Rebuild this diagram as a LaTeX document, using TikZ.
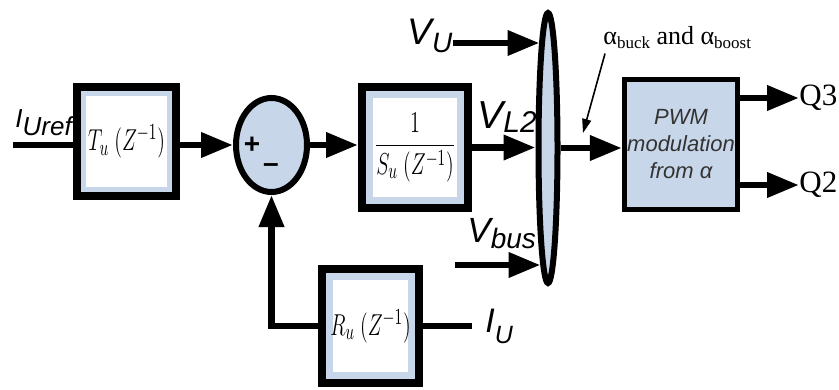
\documentclass[tikz,border=0pt]{standalone}
\usepackage{fontspec}
\setmainfont{Liberation Serif}
\setsansfont{Liberation Sans}
\usepackage{graphicx}
\usetikzlibrary{positioning,arrows.meta,shapes.geometric}
\definecolor{boxblue}{RGB}{200,214,233}
% signal name with lowered index: main, index, sizes, drop
\newcommand{\siglbl}[5]{{\fontsize{#3}{#3}\selectfont #1}\raisebox{-#5}{\fontsize{#4}{#4}\selectfont #2}}
% narrow transfer function text
\newcommand{\zf}[1]{\scalebox{0.7}[1.05]{\fontsize{15}{17}\selectfont$#1$}}

\begin{document}
\begin{tikzpicture}[
  x=0.5pt, y=-0.5pt,
  blk/.style={draw, line width=4pt, fill=boxblue, inner sep=0pt,
    path picture={\fill[white]
      ([shift={(#1,-#1)}]path picture bounding box.north west) rectangle
      ([shift={(-#1,#1)}]path picture bounding box.south east);}},
  pwm/.style={draw, line width=2.6pt, fill=boxblue, inner sep=0pt,
    minimum width=56.5pt, minimum height=65pt, align=center,
    font=\sffamily\itshape\fontsize{11}{13.5}\selectfont, text=black!80},
  sumnd/.style={draw, ellipse, line width=3pt, fill=boxblue, inner sep=0pt},
  lbl/.style={inner sep=0pt, anchor=base west, font=\sffamily\itshape},
  wire/.style={draw, line width=3.4pt},
  sig/.style={wire, -{Triangle[length=16pt,width=12pt]}},
  ptr/.style={draw, line width=0.8pt, -{Triangle[length=7pt,width=4.5pt]}}
]
\useasboundingbox (0,0) rectangle (839,390);

% Blocks
\node[blk=4.5pt, minimum width=49.5pt, minimum height=54.5pt] (Tu)
  at (126.5,141.5) {\zf{T_u\ (Z^{-1})}};
\node[blk=5.5pt, minimum width=53pt, minimum height=60.5pt] (Su)
  at (415,147.5) {\zf{\displaystyle\frac{1}{S_u\ (Z^{-1})}}};
\node[blk=5.5pt, minimum width=48.5pt, minimum height=57pt] (Ru)
  at (370.5,326) {\zf{R_u\ (Z^{-1})}};
\node[pwm] (PWM) at (681,144.5) {PWM\\modulation\\from α};

% Summing junction and selector
\node[sumnd, minimum width=35.5pt, minimum height=47pt] (sum) at (271.5,145) {};
\node[sumnd, minimum width=9.5pt, minimum height=135pt] (mux) at (548,148) {};
\node[inner sep=0pt, font=\sffamily\bfseries\fontsize{14}{14}\selectfont]
  (plus) at (252,145) {+};
\node[inner sep=0pt, font=\sffamily\bfseries\fontsize{14}{14}\selectfont]
  (minus) at (271,168) {\textendash};

% Signal labels
\node[lbl] (Iref) at (15,127) {\siglbl{I}{Uref}{13}{13}{4pt}};
\node[lbl] (VU) at (407,45) {\siglbl{V}{U}{18.5}{14}{4pt}};
\node[lbl] (VL) at (477,128) {\siglbl{V}{L2}{19.5}{15}{2pt}};
\node[lbl] (Vbus) at (467,242) {\siglbl{V}{bus}{17.5}{14}{3pt}};
\node[lbl] (IU) at (485,332) {\siglbl{I}{U}{17}{12.5}{5.5pt}};
\node[anchor=west, inner sep=0pt, font=\fontsize{15.5}{16}\selectfont]
  (Q3) at (799,98) {Q3};
\node[anchor=west, inner sep=0pt, font=\fontsize{15.5}{16}\selectfont]
  (Q2) at (799,185) {Q2};
\node[anchor=base west, inner sep=0pt, font=\fontsize{13}{15}\selectfont]
  (alpha) at (603,45)
  {α\raisebox{-2pt}{\fontsize{8.5}{9}\selectfont buck} and
   α\raisebox{-2pt}{\fontsize{8.5}{9}\selectfont boost}};

% Free ends
\coordinate (iref) at (13,145);
\coordinate (vu) at (453,43);
\coordinate (vb) at (455,265);
\coordinate (tip) at (583,133);

% Connectors
\draw[wire] (iref) -- (Tu.west |- iref);
\draw[sig] (Tu.east |- sum.west) -- (sum.west);
\draw[sig] (sum.east) -- (Su.west |- sum.east);
\draw[sig] (Su.east) -- (mux.west |- Su.east);
\draw[sig] (vu) -- ([xshift=2pt]mux.west |- vu);
\draw[sig] (vb) -- ([xshift=2.5pt]mux.west |- vb);
\draw[sig] (mux.east) -- (PWM.west |- mux.east);
\draw[sig] (PWM.east |- Q3) -- (Q3.west);
\draw[sig] (PWM.east |- Q2) -- (Q2.west);
\draw[sig] (Ru.west) -| (sum.south);
\draw[wire] (Ru.east) -- ([xshift=-6.5pt]IU.west |- Ru.east);
\draw[ptr] ([shift={(1pt,-2pt)}]alpha.south west) -- (tip);
\end{tikzpicture}
\end{document}
